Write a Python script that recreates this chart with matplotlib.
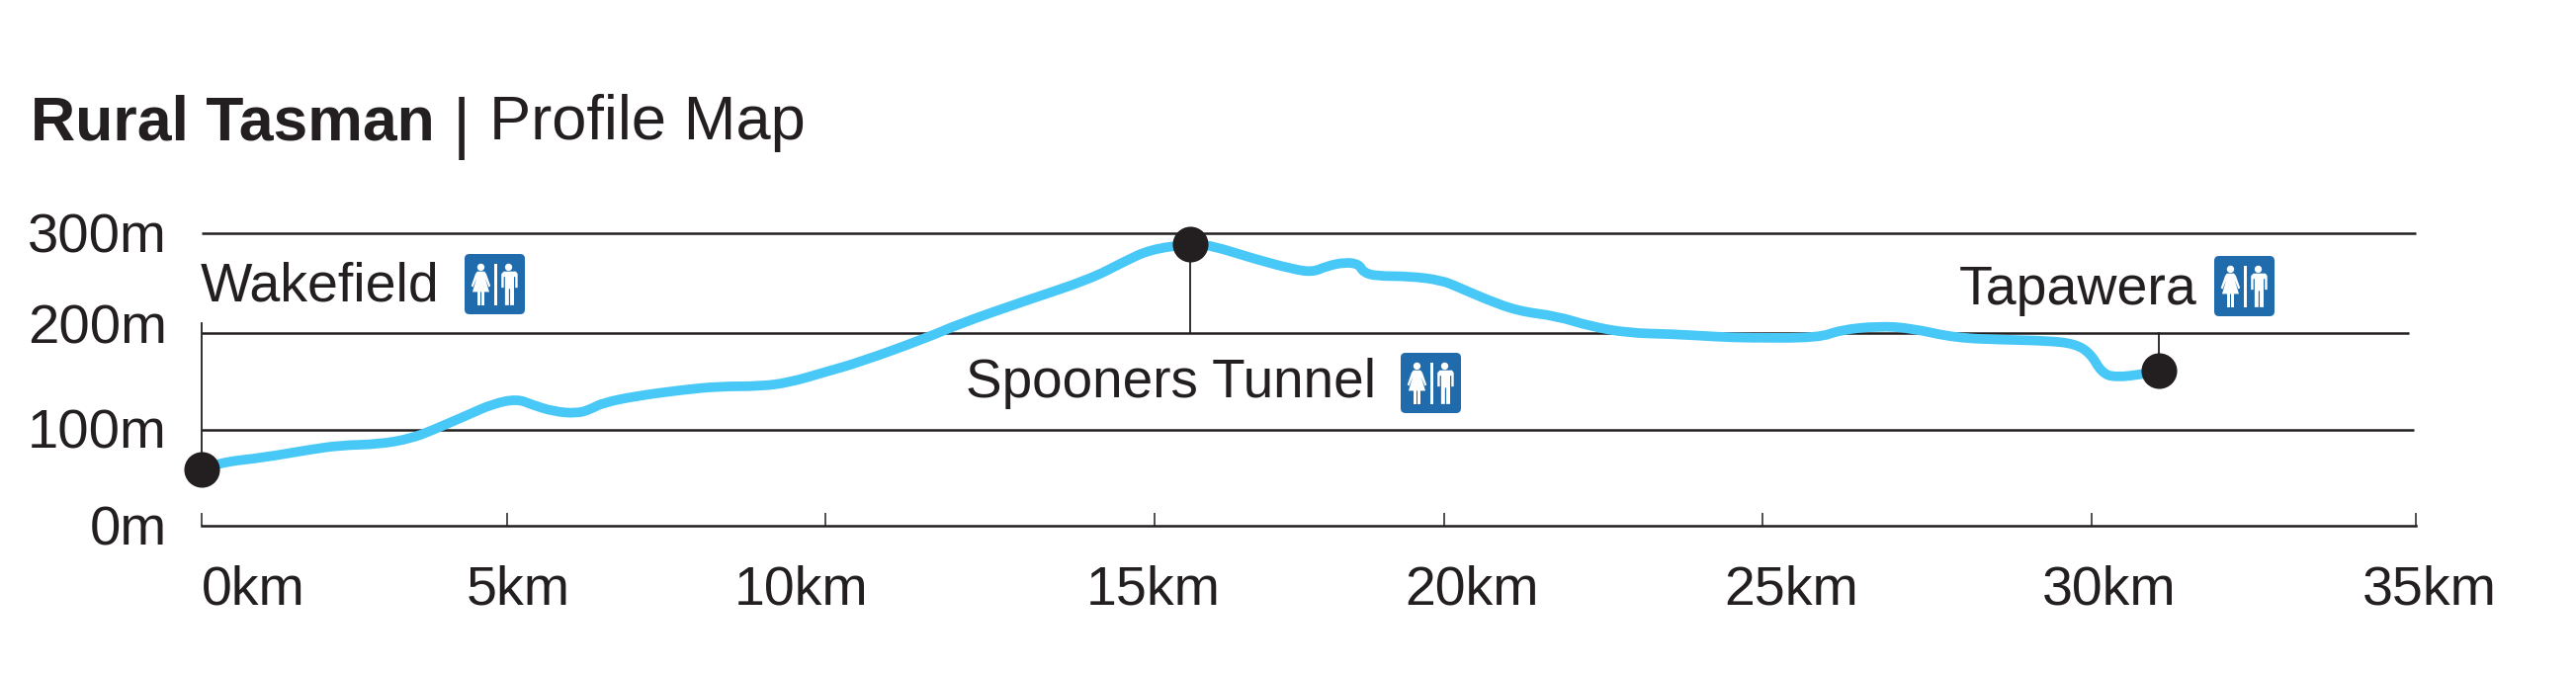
import numpy as np
import matplotlib
matplotlib.use("Agg")
import matplotlib.pyplot as plt
from matplotlib.patches import FancyBboxPatch, Circle, Polygon, Rectangle, PathPatch
from matplotlib.path import Path
from matplotlib.transforms import Affine2D

W, H = 2606, 681
DARK = "#231f20"
BLUE = "#48c8f6"
SIGN = "#1f6bab"
FONT = "Liberation Sans"

dist_km = [0, 0.29, 1.00, 1.73, 2.27, 2.90, 3.43, 3.79, 4.34, 4.77, 5.16, 5.39, 5.73, 6.09, 6.30,
           6.50, 7.03, 7.71, 8.32, 8.97, 9.43, 9.95, 10.52, 11.53, 12.02, 13.02, 14.02, 14.52,
           14.94, 15.61, 15.97, 16.74, 17.39, 17.73, 17.97, 18.29, 18.53, 18.60, 18.82, 19.39,
           19.95, 20.22, 20.65, 21.16, 21.77, 22.28, 22.89, 23.57, 24.33, 24.77, 25.85, 26.18,
           26.76, 27.26, 27.93, 28.68, 29.33, 29.75, 29.99, 30.16, 30.37, 30.84, 31.05]
elev_m = [59, 66, 71, 79, 84, 85, 91, 100, 115, 127, 132, 126, 119, 117, 121,
          128, 135, 141, 145, 145, 149, 159, 170, 195, 209, 232, 254, 271,
          284, 289, 288, 274, 264, 261, 267, 271, 269, 261, 257, 257,
          253, 246, 234, 222, 217, 207, 200, 199, 196, 195, 195, 203,
          207, 205, 195, 193, 192, 189, 179, 159, 154, 158, 161]

x_ticks = [0, 5, 10, 15, 20, 25, 30, 35]
x_labels = ["0km", "5km", "10km", "15km", "20km", "25km", "30km", "35km"]
y_ticks = [0, 100, 200, 300]
y_labels = ["0m", "100m", "200m", "300m"]
grid_levels = [100, 200, 300]
grid_ends = [34.97, 34.9, 35]

stop_names = ["Wakefield", "Spooners Tunnel", "Tapawera"]
stop_km = [0, 15.61, 31.05]
stop_elev = [59, 289, 161]
stem_end = [210, 200, 200]

# the drawn axes are not quite even, so ticks are pinned to where they really sit (pixels)
x_knots = np.array([-5, 0, 5, 10, 15, 20, 25, 30, 35, 40])
x_px = np.array([-105, 204, 513, 835.5, 1168, 1461, 1783, 2115.6, 2443.6, 2773])
y_knots = np.array([-100, 0, 100, 200, 300, 400])
y_px = np.array([-97, 0, 97, 195, 296, 397])

fig = plt.figure(figsize=(W / 100, H / 100), dpi=100, facecolor="white")
ax = fig.add_axes([204 / W, (H - 532) / H, (2443.6 - 204) / W, 296 / H])
ax.set_xscale("function", functions=(lambda v: np.interp(v, x_knots, x_px),
                                     lambda v: np.interp(v, x_px, x_knots)))
ax.set_yscale("function", functions=(lambda v: np.interp(v, y_knots, y_px),
                                     lambda v: np.interp(v, y_px, y_knots)))
ax.set_xlim(0, 35)
ax.set_ylim(0, 300)
ax.patch.set_alpha(0)
for s in ["top", "left", "right"]:
    ax.spines[s].set_visible(False)
ax.spines["bottom"].set_linewidth(1.8)
ax.spines["bottom"].set_color(DARK)

ax.set_xticks(x_ticks, x_labels)
ax.set_yticks(y_ticks, y_labels)
ax.tick_params(axis="x", direction="in", length=9.5, width=1.1, color=DARK, pad=0,
               labelsize=40, labelcolor=DARK)
ax.tick_params(axis="y", length=0, pad=0, labelsize=40.5, labelcolor=DARK)

# label nudges in pixels, the labels in the original sit off their ticks
x_nudge = [52, 11, -25, -1, 28, 29, 18, 14]
for lab, dx in zip(ax.get_xticklabels(), x_nudge):
    lab.set_family(FONT)
    lab.set_verticalalignment("baseline")
    lab.set_transform(lab.get_transform() + Affine2D().translate(dx, -79))
y_nudge = [-19, -19, -11, -20]
for lab, dy in zip(ax.get_yticklabels(), y_nudge):
    lab.set_family(FONT)
    lab.set_verticalalignment("baseline")
    lab.set_transform(lab.get_transform() + Affine2D().translate(-35, dy))

for lev, end in zip(grid_levels, grid_ends):
    ax.plot([0, end], [lev, lev], color=DARK, lw=1.8, solid_capstyle="butt", zorder=1, clip_on=False)
for km, e0, e1 in zip(stop_km, stop_elev, stem_end):
    ax.plot([km, km], [e0, e1], color=DARK, lw=1.3, zorder=1, clip_on=False)

# readings are the control points of a quadratic curve, the original line is smooth
pts = np.column_stack([dist_km, elev_m]).astype(float)
verts = [pts[0]]
codes = [Path.MOVETO]
for i in range(1, len(pts) - 1):
    verts += [pts[i], (pts[i] + pts[i + 1]) / 2]
    codes += [Path.CURVE3, Path.CURVE3]
verts.append(pts[-1])
codes.append(Path.LINETO)
ax.add_patch(PathPatch(Path(np.array(verts), codes), fc="none", ec=BLUE, lw=7,
                       capstyle="round", joinstyle="round", zorder=2, clip_on=False))
ax.plot(stop_km, stop_elev, "o", color=DARK, ms=26, mew=0, zorder=3, clip_on=False)

# everything below is placed in image pixels, y down
px = Affine2D().scale(1, -1).translate(0, H)


def put(x, y, s, size=40, weight="normal"):
    fig.text(x / W, 1 - y / H, s, fontsize=size, fontweight=weight, family=FONT, color=DARK,
             va="baseline", ha="left")


def restroom(x0, y0, size=61):
    tr = Affine2D().scale(size).translate(x0, y0) + px
    add = fig.add_artist
    add(FancyBboxPatch((0.06, 0.06), 0.88, 0.88, boxstyle="round,pad=0.06,rounding_size=0.08",
                       fc=SIGN, ec="none", transform=tr))
    white = dict(fc="white", ec="none", transform=tr)
    add(Circle((0.27, 0.22), 0.06, **white))
    add(Circle((0.73, 0.22), 0.06, **white))
    add(Polygon([(.21, .29), (.33, .29), (.36, .33), (.43, .53), (.40, .55), (.34, .40), (.41, .63),
                 (.13, .63), (.20, .40), (.14, .55), (.11, .53), (.18, .33)], **white))
    add(Rectangle((.21, .63), .045, .22, **white))
    add(Rectangle((.285, .63), .045, .22, **white))
    add(Rectangle((.49, .16), .05, .69, **white))
    add(Polygon([(.65, .29), (.85, .29), (.88, .33), (.88, .56), (.84, .56), (.84, .38), (.82, .38),
                 (.82, .85), (.755, .85), (.755, .58), (.735, .58), (.735, .85), (.67, .85),
                 (.67, .38), (.65, .38), (.65, .56), (.61, .56), (.61, .33)], **white))


put(31, 141, "Rural Tasman", size=45, weight="bold")
put(458, 148, "|", size=50)
put(495, 141, "Profile Map", size=45.5)

put(203, 305, stop_names[0])
put(977, 402, stop_names[1], size=39.5)
put(1982, 308, stop_names[2])
restroom(470, 257)
restroom(1417, 357)
restroom(2240, 259)

fig.savefig("out.png", dpi=100)
